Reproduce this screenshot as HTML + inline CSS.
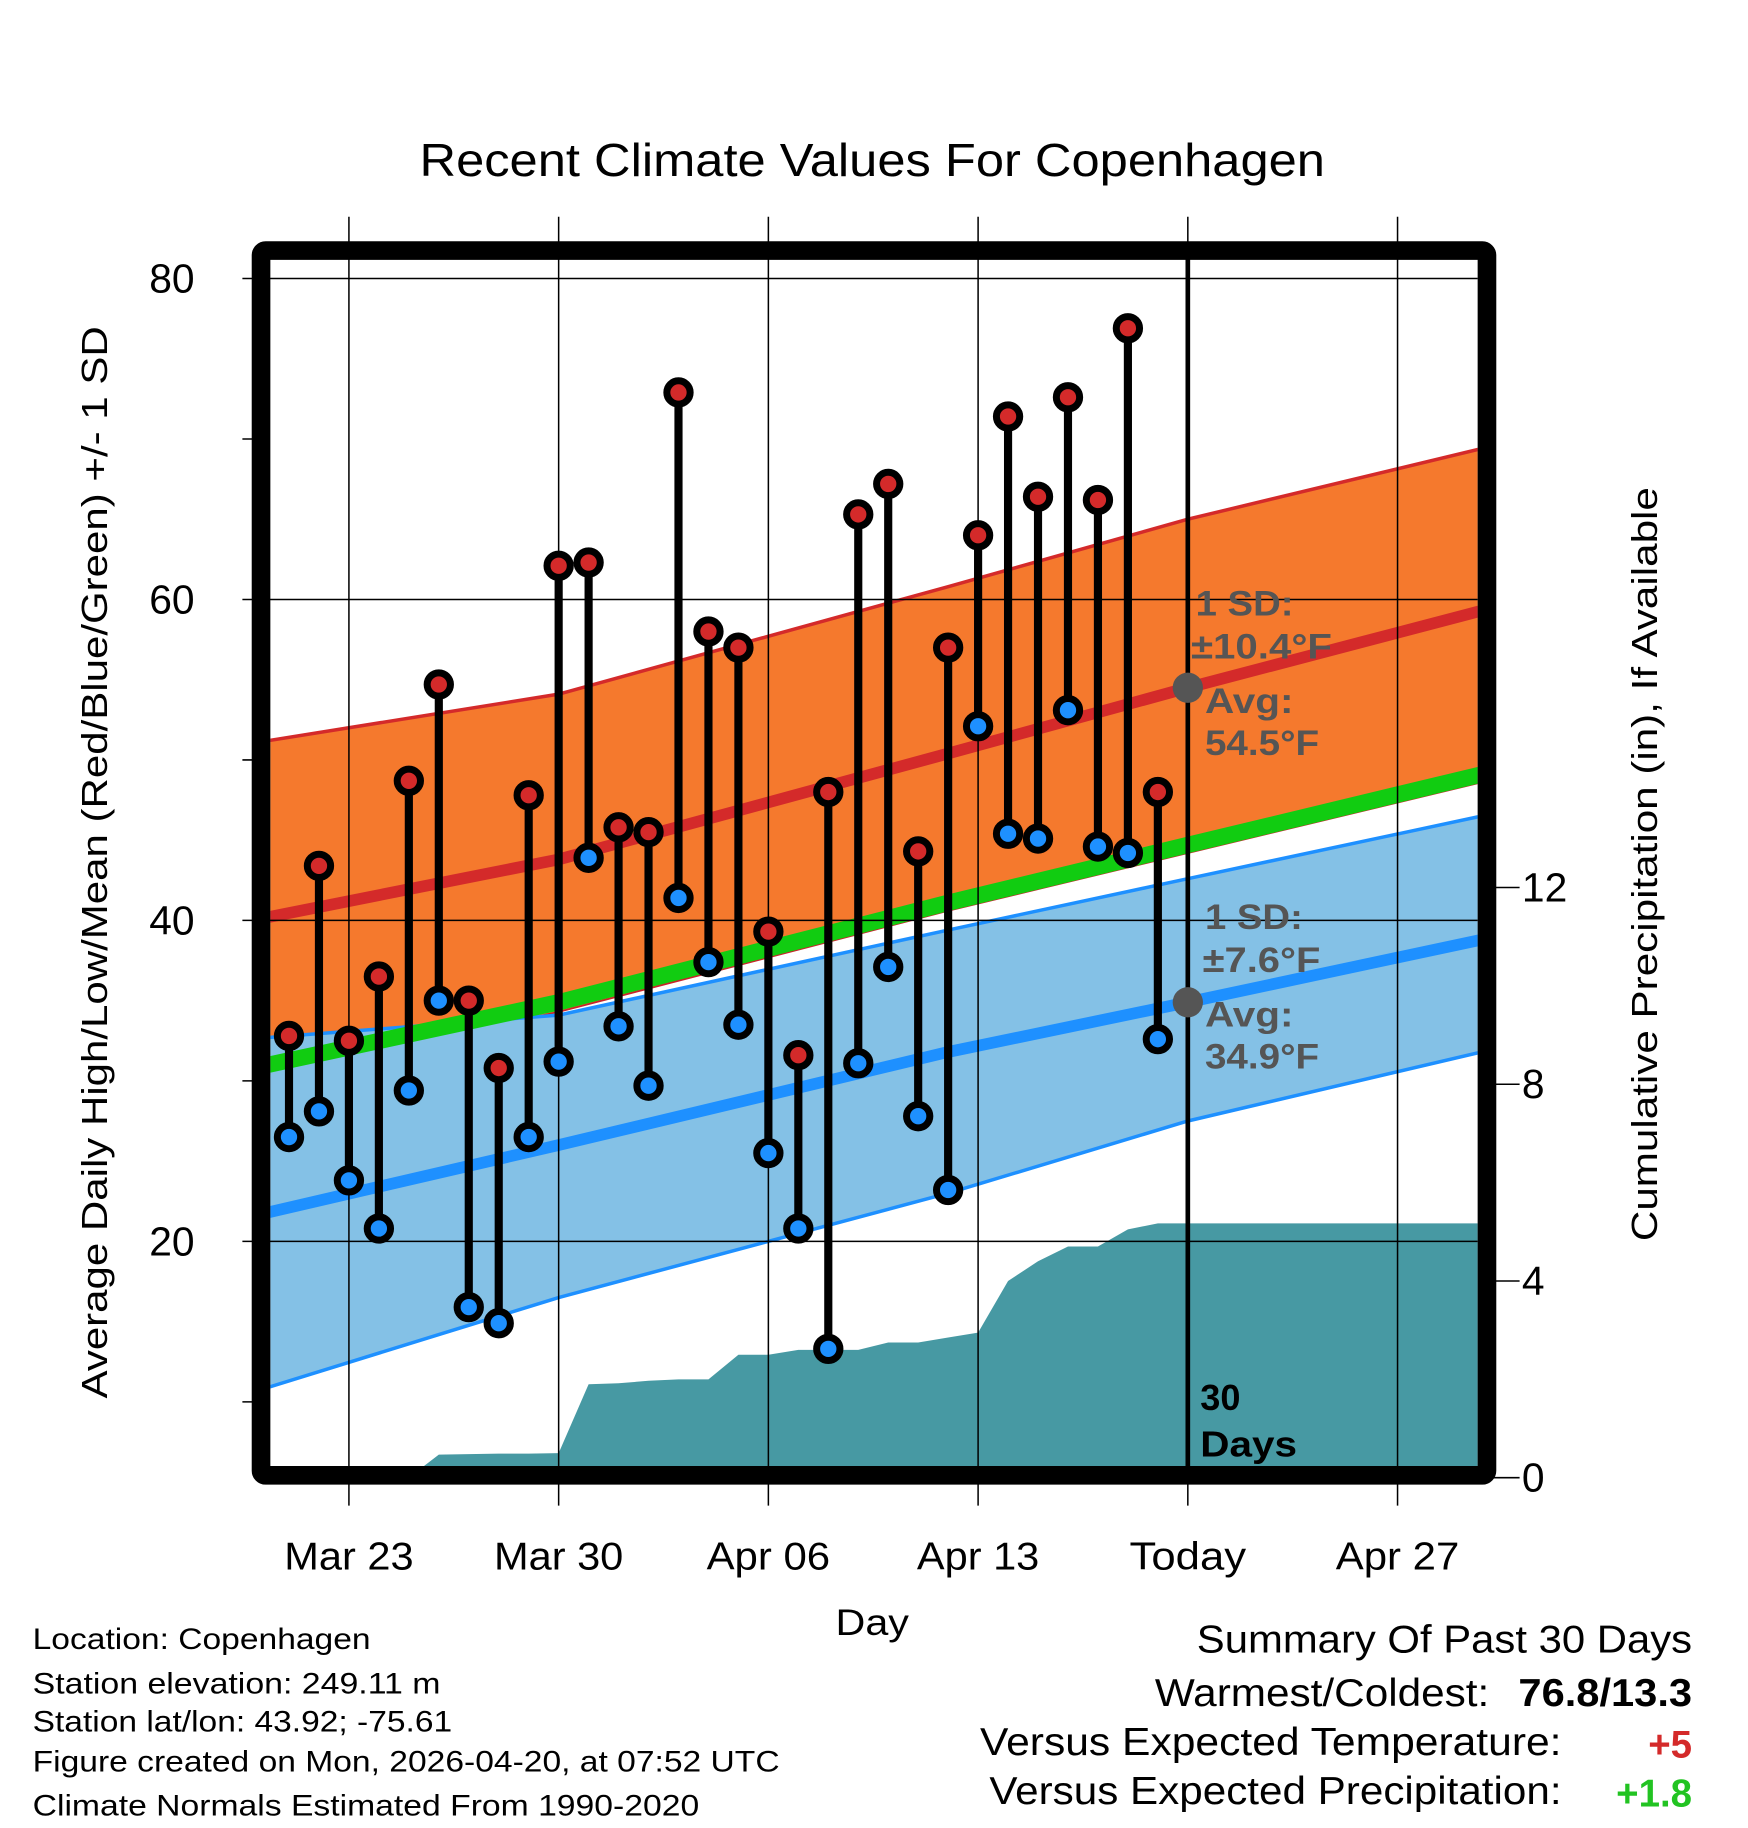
<!DOCTYPE html>
<html><head><meta charset="utf-8"><style>
html,body{margin:0;padding:0;background:#fff;}
svg{display:block;font-family:"Liberation Sans",Arial,sans-serif;}
</style></head><body>
<svg id="chart" width="1748" height="1828" viewBox="0 0 1500 1568.6" preserveAspectRatio="none" xmlns="http://www.w3.org/2000/svg">
<defs><clipPath id="plotclip"><rect x="232" y="222" width="1036" height="1038"/></clipPath></defs>
<rect width="1500" height="1568.6" fill="#fff"/>
<text x="360" y="151" font-size="40" textLength="777" lengthAdjust="spacingAndGlyphs">Recent Climate Values For Copenhagen</text>
<g id="bands" clip-path="url(#plotclip)"></g>
<g id="grid"></g>
<g id="marks"></g>
<rect x="224" y="215" width="1052" height="1051" fill="none" stroke="#000" stroke-width="16" rx="4"/>
<g id="axes"></g>
<text transform="translate(92,1200) rotate(-90)" font-size="31" textLength="920" lengthAdjust="spacingAndGlyphs">Average Daily High/Low/Mean (Red/Blue/Green) +/- 1 SD</text>
<text transform="translate(1422,1065) rotate(-90)" font-size="31" textLength="647" lengthAdjust="spacingAndGlyphs">Cumulative Precipitation (in), If Available</text>
<text x="717" y="1403" font-size="32" textLength="63" lengthAdjust="spacingAndGlyphs">Day</text>
<g font-size="25.5">
<text x="28" y="1415" textLength="290" lengthAdjust="spacingAndGlyphs">Location: Copenhagen</text>
<text x="28" y="1453" textLength="350" lengthAdjust="spacingAndGlyphs">Station elevation: 249.11 m</text>
<text x="28" y="1486" textLength="360" lengthAdjust="spacingAndGlyphs">Station lat/lon: 43.92; -75.61</text>
<text x="28" y="1520" textLength="641" lengthAdjust="spacingAndGlyphs">Figure created on Mon, 2026-04-20, at 07:52 UTC</text>
<text x="28" y="1558" textLength="572" lengthAdjust="spacingAndGlyphs">Climate Normals Estimated From 1990-2020</text>
</g>
<g font-size="33">
<text x="1027" y="1418" textLength="425" lengthAdjust="spacingAndGlyphs">Summary Of Past 30 Days</text>
<text x="991" y="1464" textLength="287" lengthAdjust="spacingAndGlyphs">Warmest/Coldest:</text>
<text x="1303" y="1464" font-weight="bold" textLength="149" lengthAdjust="spacingAndGlyphs">76.8/13.3</text>
<text x="841" y="1506" textLength="499" lengthAdjust="spacingAndGlyphs">Versus Expected Temperature:</text>
<text x="1452" y="1508" text-anchor="end" font-weight="bold" fill="#d42a2a">+5</text>
<text x="849" y="1548" textLength="491" lengthAdjust="spacingAndGlyphs">Versus Expected Precipitation:</text>
<text x="1452" y="1550" text-anchor="end" font-weight="bold" fill="#22c322">+1.8</text>
</g>
<script>
// ---- data ----
const dayIndex = [0,1,2,3,4,5,6,7,8,9,10,11,12,13,14,15,16,17,18,19,20,21,22,23,24,25,26,27,28,29];
const highs = [32.8,43.4,32.5,36.5,48.7,54.7,35.0,30.8,47.8,62.1,62.3,45.8,45.5,72.9,58.0,57.0,39.3,31.6,48.0,65.3,67.2,44.3,57.0,64.0,71.4,66.4,72.6,66.2,76.9,48.0];
const lows = [26.5,28.1,23.8,20.8,29.4,35.0,15.9,14.9,26.5,31.2,43.9,33.4,29.7,41.4,37.4,33.5,25.5,20.8,13.3,31.1,37.1,27.8,23.2,52.1,45.4,45.1,53.1,44.6,44.2,32.6];
const precip = [0,0,0,0,0,0.47,0.48,0.49,0.49,0.5,1.9,1.92,1.97,2.0,2.0,2.5,2.5,2.6,2.6,2.6,2.75,2.75,2.85,2.95,4.0,4.4,4.7,4.7,5.05,5.17];
const normDays = [-0.7,9,22,30,39.8];
const highUpper = [51.2,54.1,60.8,65.0,69.4];
const highMean = [40.2,43.8,50.4,54.5,59.3];
const meanLine = [31.0,34.9,41.1,44.7,49.1];
const highLower = [30.4,34.3,40.6,44.2,48.6];
const lowUpper = [32.7,34.1,39.4,42.6,46.5];
const lowMean = [21.8,26.0,31.8,34.9,38.8];
const lowLower = [10.9,16.5,23.0,27.5,31.8];
const yTicks = [20,40,60,80];
const yMinor = [10,30,50,70];
const y2Ticks = [0,4,8,12];
const xTickDays = [2,9,16,23,30,37];
const xTickLabels = ["Mar 23","Mar 30","Apr 06","Apr 13","Today","Apr 27"];
const xTickWidths = [111,111,106,105,100,106];
// ---- scales ----
const X = d => 248 + d*25.71;
const Y = v => 239 + (80 - v)*13.77;
const Y2 = p => 1268 - p*42.2;
const NS = "http://www.w3.org/2000/svg";
function mk(tag, attrs, parent){const e=document.createElementNS(NS,tag);for(const k in attrs)e.setAttribute(k,attrs[k]);parent.appendChild(e);return e;}
const bands=document.getElementById('bands'), grid=document.getElementById('grid'), marks=document.getElementById('marks'), axes=document.getElementById('axes');
function pts(arr){return normDays.map((d,i)=>X(d)+','+Y(arr[i]));}
function bandPath(up,lo){return 'M'+pts(up).join(' L')+' L'+pts(lo).reverse().join(' L')+'Z';}
let pp='M'+X(-0.7)+','+Y2(0);
dayIndex.forEach((d,i)=>{pp+=' L'+X(d)+','+Y2(precip[i]);});
pp+=' L'+X(39.8)+','+Y2(precip[precip.length-1])+' L'+X(39.8)+','+Y2(0)+'Z';
let e;
e=mk('path',{d:bandPath(highUpper,highLower),fill:'#f5792d'},bands);


e=mk('polyline',{points:pts(highLower).join(' '),fill:'none',stroke:'#c8242a','stroke-width':1.5},bands);


e=mk('path',{d:bandPath(lowUpper,lowLower),fill:'#84c1e6'},bands);


e=mk('path',{d:pp,fill:'#4799a3'},bands);


e=mk('polyline',{points:pts(highUpper).join(' '),fill:'none',stroke:'#d42a2a','stroke-width':3},bands);


e=mk('polyline',{points:pts(highMean).join(' '),fill:'none',stroke:'#d42a2a','stroke-width':10},bands);


e=mk('polyline',{points:pts(lowUpper).join(' '),fill:'none',stroke:'#1e90ff','stroke-width':3},bands);


e=mk('polyline',{points:pts(lowMean).join(' '),fill:'none',stroke:'#1e90ff','stroke-width':10},bands);


e=mk('polyline',{points:pts(lowLower).join(' '),fill:'none',stroke:'#1e90ff','stroke-width':3},bands);


e=mk('polyline',{points:pts(meanLine).join(' '),fill:'none',stroke:'#11cc11','stroke-width':14},bands);


yTicks.forEach(v=>{
 e=mk('line',{x1:208,x2:1268,y1:Y(v),y2:Y(v),stroke:'#000','stroke-width':1.3},grid);
 
 
 e=mk('text',{x:167,y:Y(v)+12,'font-size':35,'text-anchor':'end'},axes);
 e.textContent=v;
 
 
});
yMinor.forEach(v=>{
 e=mk('line',{x1:208,x2:224,y1:Y(v),y2:Y(v),stroke:'#000','stroke-width':1.3},axes);
 
 
});
y2Ticks.forEach(p=>{
 e=mk('line',{x1:1276,x2:1304,y1:Y2(p),y2:Y2(p),stroke:'#000','stroke-width':1.3},axes);
 
 
 e=mk('text',{x:1306,y:Y2(p)+12,'font-size':35},axes);
 e.textContent=p;
 
 
});
xTickDays.forEach((d,i)=>{
 e=mk('line',{x1:X(d),x2:X(d),y1:186,y2:1292,stroke:'#000','stroke-width':1.3},grid);
 
 
 if(xTickLabels[i]==="Today"){
  e=mk('line',{x1:X(d),x2:X(d),y1:222,y2:1260,stroke:'#000','stroke-width':4},grid);
  
  
 }
 e=mk('text',{x:X(d)-xTickWidths[i]/2,y:1347,'font-size':33,textLength:xTickWidths[i],lengthAdjust:'spacingAndGlyphs'},axes);
 e.textContent=xTickLabels[i];
 
 
});
dayIndex.forEach((d,i)=>{
 e=mk('line',{x1:X(d),x2:X(d),y1:Y(highs[i]),y2:Y(lows[i]),stroke:'#000','stroke-width':7},marks);
 
 
});
dayIndex.forEach((d,i)=>{
 e=mk('circle',{cx:X(d),cy:Y(highs[i]),r:10,fill:'#d42a2a',stroke:'#000','stroke-width':6},marks);
 
 
 e=mk('circle',{cx:X(d),cy:Y(lows[i]),r:10,fill:'#1e90ff',stroke:'#000','stroke-width':6},marks);
 
 
});
e=mk('circle',{cx:X(30),cy:Y(highMean[3]),r:13,fill:'#555'},marks);


e=mk('circle',{cx:X(30),cy:Y(lowMean[3]),r:13,fill:'#555'},marks);


const ann=[["1 SD:",1026,528,84],["±10.4°F",1022,565,121],["Avg:",1034,612,76],["54.5°F",1034,648,98],["1 SD:",1034,797,84],["±7.6°F",1032,834,101],["Avg:",1034,881,76],["34.9°F",1034,917,98]];
ann.forEach(a=>{
 e=mk('text',{x:a[1],y:a[2],'font-size':30,'font-weight':'bold',fill:'#555',textLength:a[3],lengthAdjust:'spacingAndGlyphs'},marks);
 e.textContent=a[0];
 
 
});
e=mk('text',{x:1030,y:1210,'font-size':31,'font-weight':'bold',fill:'#000'},marks);
e.textContent="30";


e=mk('text',{x:1030,y:1250,'font-size':31,'font-weight':'bold',fill:'#000',textLength:83,lengthAdjust:'spacingAndGlyphs'},marks);
e.textContent="Days";


</script>
</svg>
</body></html>
